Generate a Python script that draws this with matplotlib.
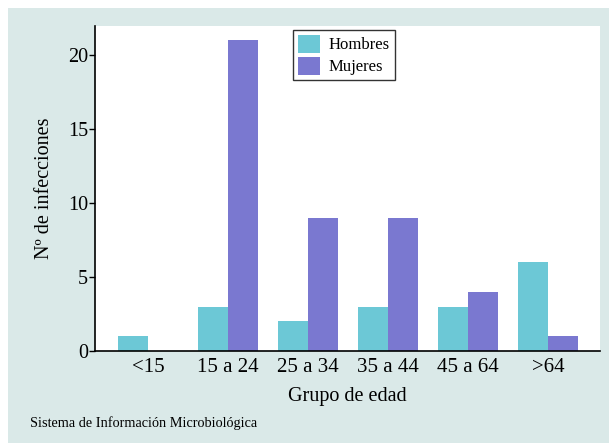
import numpy as np
import matplotlib
matplotlib.use('Agg')
import matplotlib.pyplot as plt
from matplotlib.patches import Rectangle

grupos = ['<15', '15 a 24', '25 a 34', '35 a 44', '45 a 64', '>64']
hombres = [1, 3, 2, 3, 3, 6]
mujeres = [0, 21, 9, 9, 4, 1]

c_hombres = '#6cc8d6'
c_mujeres = '#7a78d0'
fondo = '#dae9e8'

plt.rcParams['font.family'] = ['Liberation Serif', 'DejaVu Serif']

W, H = 609, 443
fig = plt.figure(figsize=(W / 100, H / 100), dpi=100, facecolor='white')
fig.patches.append(Rectangle((8 / W, 0), 1, 1 - 8 / H, transform=fig.transFigure,
                             facecolor=fondo, edgecolor='none', zorder=-1))

ax = fig.add_axes([95 / W, 1 - 351 / H, 505 / W, 325 / H])
ax.set_facecolor('white')

x = np.arange(len(grupos))
w = 0.375
ax.bar(x - w / 2, hombres, w, color=c_hombres, label='Hombres')
ax.bar(x + w / 2, mujeres, w, color=c_mujeres, label='Mujeres')

ax.set_xlim(-0.66, 5.65)
ax.set_ylim(0, 21.95)
ax.set_yticks([0, 5, 10, 15, 20])
ax.set_xticks(x)
ax.set_xticklabels(grupos, fontsize=15)
ax.tick_params(axis='x', length=0, pad=5)
ax.tick_params(axis='y', length=4, width=1, labelsize=14.5, pad=1)
for s in ['top', 'right']:
    ax.spines[s].set_visible(False)
for s in ['left', 'bottom']:
    ax.spines[s].set_linewidth(1.2)

ax.set_xlabel('Grupo de edad', fontsize=14.5, labelpad=7)
ax.set_ylabel('Nº de infecciones', fontsize=14.5, labelpad=10)

leg = ax.legend(loc='upper left', bbox_to_anchor=(0.392, 0.988), borderaxespad=0,
                fontsize=12, frameon=True, fancybox=False, edgecolor='black',
                handlelength=1.3, handleheight=1.25, borderpad=0.3,
                labelspacing=0.22, handletextpad=0.55)
leg.get_frame().set_linewidth(1)

fig.text(30 / W, 1 - 423 / H, 'Sistema de Información Microbiológica',
         fontsize=10.3, va='center', ha='left')

fig.savefig('out.png', dpi=100, facecolor=fig.get_facecolor())
